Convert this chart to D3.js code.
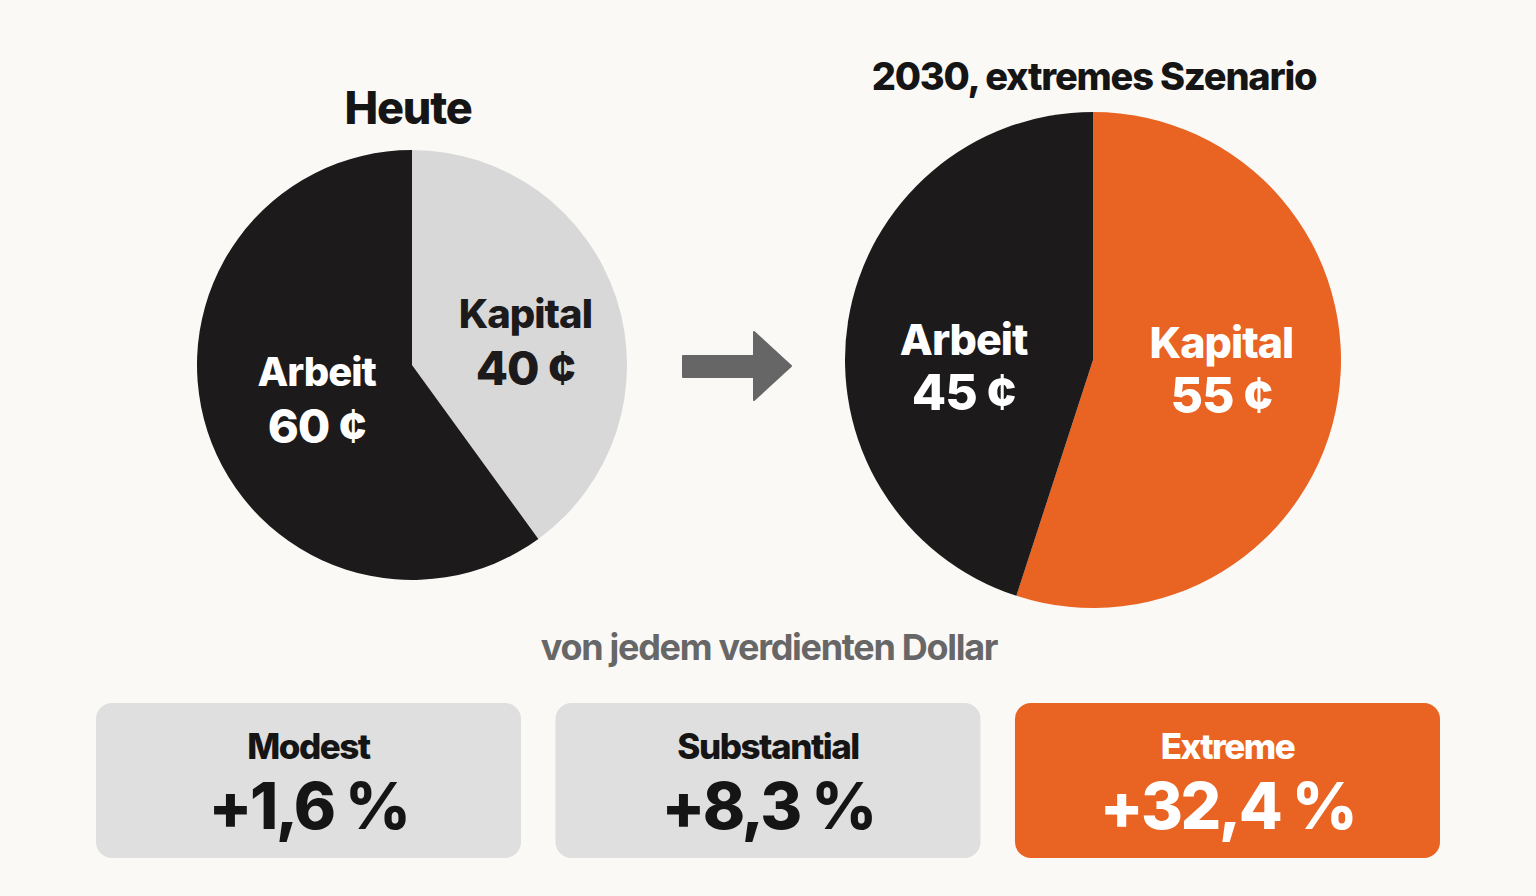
<!DOCTYPE html>
<html>
<head>
<meta charset="utf-8">
<script src="https://cdn.jsdelivr.net/npm/d3@7"></script>
<style>
  html, body { margin: 0; padding: 0; background: #fbf9f6; }
  svg { display: block; font-family: Inter, Roboto, "Noto Sans", sans-serif; }
</style>
</head>
<body>
<svg id="grafik"></svg>
<script>
// Daten
var kategorien = ['Kapital', 'Arbeit'];
var heute = [40, 60];
var szenario2030 = [55, 45];
var titel = ['Heute', '2030, extremes Szenario'];
var untertitel = 'von jedem verdienten Dollar';
var szenarien = ['Modest', 'Substantial', 'Extreme'];
var zuwachs = [1.6, 8.3, 32.4];

var breite = 1536, hoehe = 896;
var svg = d3.select('#grafik').attr('width', breite).attr('height', hoehe);

var schwarz = '#1c1a1a', grau = '#d8d8d8', orange = '#e96322';

var kuchen = d3.pie().sort(null).value(d => d.wert);

function torte(param) {
  var g = svg.append('g')
             .attr('transform', 'translate(' + param.cx + ',' + param.cy + ')');

  var daten = kategorien.map((k, i) => ({ name: k, wert: param.werte[i] }));
  var bogen = d3.arc().innerRadius(0).outerRadius(param.r);
  var labelBogen = d3.arc().innerRadius(param.r * 0.52).outerRadius(param.r * 0.52);

  g.selectAll('.stueck')
    .data(kuchen(daten))
    .enter()
      .append('path')
      .classed('stueck', true)
      .attr('d', bogen)
      .attr('fill', d => param.farben[d.data.name]);

  // Beschriftung am Schwerpunkt, leicht verschoben
  var beschriftung = g.selectAll('.rotulo')
    .data(kuchen(daten))
    .enter()
      .append('g')
      .attr('transform', d => {
        var c = labelBogen.centroid(d), v = param.versatz[d.data.name];
        return 'translate(' + (c[0] + v[0]) + ',' + (c[1] + v[1]) + ')';
      });

  beschriftung.append('text')
    .text(d => d.data.name)
    .attr('text-anchor', 'middle')
    .attr('y', param.dyName)
    .attr('font-size', param.fsName)
    .attr('font-weight', 800)
    .attr('letter-spacing', -1)
    .attr('fill', d => param.textFarben[d.data.name]);

  beschriftung.append('text')
    .text(d => d.data.wert + ' ¢')
    .attr('text-anchor', 'middle')
    .attr('y', param.dyWert)
    .attr('font-size', param.fsWert)
    .attr('font-weight', 800)
    .attr('letter-spacing', -1)
    .attr('fill', d => param.textFarben[d.data.name]);

  svg.append('text')
    .text(param.titel)
    .attr('x', param.cx + param.titelDx)
    .attr('y', param.titelY)
    .attr('text-anchor', 'middle')
    .attr('font-size', param.fsTitel)
    .attr('font-weight', 800)
    .attr('letter-spacing', -1.2)
    .attr('fill', '#161515');
}

torte({
  cx: 412, cy: 365, r: 215, werte: heute, titel: titel[0],
  titelY: 124, titelDx: -4, fsTitel: 45,
  farben: { Kapital: grau, Arbeit: schwarz },
  textFarben: { Kapital: schwarz, Arbeit: '#ffffff' },
  versatz: { Kapital: [7, 11], Arbeit: [11, -1] },
  fsName: 40, fsWert: 47, dyName: -13, dyWert: 44
});

torte({
  cx: 1093, cy: 360, r: 248, werte: szenario2030, titel: titel[1],
  titelY: 90, titelDx: 1, fsTitel: 38,
  farben: { Kapital: orange, Arbeit: schwarz },
  textFarben: { Kapital: '#ffffff', Arbeit: '#ffffff' },
  versatz: { Kapital: [1, -9], Arbeit: [-2, 28] },
  fsName: 43, fsWert: 50, dyName: -13, dyWert: 42
});

// Pfeil
var pfeil = d3.path();
pfeil.moveTo(683, 356);
pfeil.lineTo(754, 356);
pfeil.lineTo(754, 332);
pfeil.lineTo(791, 366);
pfeil.lineTo(754, 400);
pfeil.lineTo(754, 377);
pfeil.lineTo(683, 377);
pfeil.closePath();
svg.append('path').attr('d', pfeil.toString()).attr('fill', '#666666')
   .attr('stroke', '#666666').attr('stroke-width', 2).attr('stroke-linejoin', 'round');

svg.append('text')
  .text(untertitel)
  .attr('x', 769)
  .attr('y', 660)
  .attr('text-anchor', 'middle')
  .attr('font-size', 36)
  .attr('font-weight', 700)
  .attr('letter-spacing', -1.3)
  .attr('fill', '#676767');

// Kästen
var x = d3.scaleBand().domain(szenarien).range([96, 1440]).paddingInner(0.075);
var format = d3.formatLocale({ decimal: ',', thousands: '.', grouping: [3], currency: ['', ''] }).format('.1f');

var kasten = svg.selectAll('.kasten')
  .data(szenarien)
  .enter()
    .append('g')
    .classed('kasten', true)
    .attr('transform', d => 'translate(' + x(d) + ',703)');

kasten.append('rect')
  .attr('width', x.bandwidth())
  .attr('height', 155)
  .attr('rx', 16)
  .attr('fill', (d, i) => i === 2 ? orange : '#dfdfdf');

kasten.append('text')
  .text(d => d)
  .attr('x', x.bandwidth() / 2)
  .attr('y', 56)
  .attr('text-anchor', 'middle')
  .attr('font-size', 35)
  .attr('font-weight', 800)
  .attr('letter-spacing', -1.5)
  .attr('fill', (d, i) => i === 2 ? '#ffffff' : '#161515');

kasten.append('text')
  .text((d, i) => '+' + format(zuwachs[i]) + ' %')
  .attr('x', x.bandwidth() / 2)
  .attr('y', 126)
  .attr('text-anchor', 'middle')
  .attr('font-size', 64)
  .attr('font-weight', 800)
  .attr('letter-spacing', -2.5)
  .attr('fill', (d, i) => i === 2 ? '#ffffff' : '#161515');
</script>
</body>
</html>
